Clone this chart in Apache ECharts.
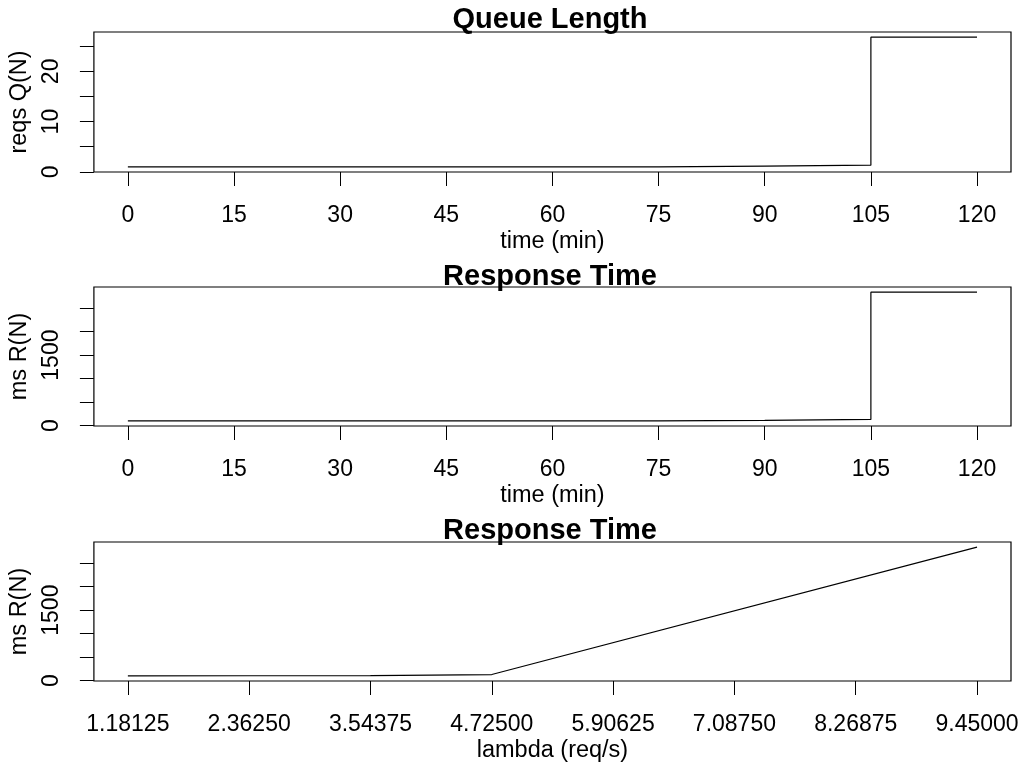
<!DOCTYPE html>
<html>
<head>
<meta charset="utf-8">
<script src="https://cdn.jsdelivr.net/npm/echarts@6/dist/echarts.min.js"></script>
<style>
  html, body { margin: 0; padding: 0; background: #fff; }
  #chart { width: 1024px; height: 769px; }
</style>
</head>
<body>
<div id="chart"></div>
<script>
// Time series sampled every 15 minutes (step plots)
const timeMin = [0, 15, 30, 45, 60, 75, 90, 105, 120];
const queueLen = [1.0, 1.0, 1.0, 1.0, 1.0, 1.12, 1.32, 26.8, 26.8];
const respTime = [100, 100, 100, 100, 100, 112, 130, 2840, 2840];

// Response time against arrival rate
const lambdaReq = [1.18125, 2.3625, 3.54375, 4.725, 9.45];
const respByLambda = [102, 104, 108, 130, 2840];

// Axis ticks and labels
const timeTicks = [0, 15, 30, 45, 60, 75, 90, 105, 120];
const lambdaTicks = [1.18125, 2.3625, 3.54375, 4.725, 5.90625, 7.0875, 8.26875, 9.45];
const queueTicks = [0, 5, 10, 15, 20, 25];
const queueLabels = [0, 10, 20];
const respTicks = [0, 500, 1000, 1500, 2000, 2500];
const respLabels = [0, 1500];

const FONT = '"Liberation Sans", Arial, Helvetica, sans-serif';

// 4% padding on each side of the data range
function padRange(arr) {
  const lo = Math.min(...arr), hi = Math.max(...arr), p = 0.04 * (hi - lo);
  return [lo - p, hi + p];
}

const grids = [
  { left: 93, top: 32, width: 918, height: 140 },
  { left: 93, top: 287, width: 918, height: 139 },
  { left: 93, top: 542, width: 918, height: 139 }
];

function xAxisDef(gridIndex, data, ticks, name, fmt) {
  const r = padRange(data);
  return {
    type: 'value', gridIndex, min: r[0], max: r[1],
    name, nameLocation: 'middle', nameGap: 58,
    nameTextStyle: { color: '#000', fontSize: 23.5, fontFamily: FONT },
    axisLine: { show: false, onZero: false },
    splitLine: { show: false },
    axisTick: { show: true, inside: false, length: 14, customValues: ticks,
      lineStyle: { color: '#000', width: 1 } },
    axisLabel: { show: true, customValues: ticks, margin: 32, color: '#000',
      fontSize: 23, fontFamily: FONT, formatter: fmt, hideOverlap: false }
  };
}

function yAxisDef(gridIndex, data, ticks, labels, name) {
  const r = padRange(data);
  return {
    type: 'value', gridIndex, min: r[0], max: r[1],
    name, nameLocation: 'middle', nameGap: 60, nameRotate: 90,
    nameTextStyle: { color: '#000', fontSize: 23.5, fontFamily: FONT },
    axisLine: { show: false, onZero: false },
    splitLine: { show: false },
    axisTick: { show: true, inside: false, length: 14, customValues: ticks,
      lineStyle: { color: '#000', width: 1 } },
    axisLabel: { show: true, customValues: labels, rotate: 90, margin: 31,
      color: '#000', fontSize: 23, fontFamily: FONT,
      formatter: v => String(v), hideOverlap: false }
  };
}

function titleDef(text, top) {
  return {
    text, left: 545, top, textAlign: 'center',
    textStyle: { color: '#000', fontSize: 29, fontWeight: 'bold', fontFamily: FONT }
  };
}

function lineSeries(idx, xs, ys, step) {
  return {
    type: 'line', xAxisIndex: idx, yAxisIndex: idx,
    data: xs.map((x, i) => [x, ys[i]]),
    step: step ? 'end' : false,
    showSymbol: false, symbol: 'none', silent: true, animation: false,
    lineStyle: { color: '#000', width: 1.2 }
  };
}

const chart = echarts.init(document.getElementById('chart'), null, { renderer: 'canvas' });
chart.setOption({
  backgroundColor: '#fff',
  animation: false,
  title: [
    titleDef('Queue Length', 0),
    titleDef('Response Time', 257),
    titleDef('Response Time', 511)
  ],
  grid: grids.map(g => Object.assign({ show: true, borderColor: '#000', borderWidth: 1.2,
    backgroundColor: 'transparent', containLabel: false }, g)),
  xAxis: [
    xAxisDef(0, timeMin, timeTicks, 'time (min)', v => String(v)),
    xAxisDef(1, timeMin, timeTicks, 'time (min)', v => String(v)),
    xAxisDef(2, lambdaReq, lambdaTicks, 'lambda (req/s)', v => Number(v).toFixed(5))
  ],
  yAxis: [
    yAxisDef(0, queueLen, queueTicks, queueLabels, 'reqs Q(N)'),
    yAxisDef(1, respTime, respTicks, respLabels, 'ms R(N)'),
    yAxisDef(2, respByLambda, respTicks, respLabels, 'ms R(N)')
  ],
  series: [
    lineSeries(0, timeMin, queueLen, true),
    lineSeries(1, timeMin, respTime, true),
    lineSeries(2, lambdaReq, respByLambda, false)
  ]
});
</script>
</body>
</html>
